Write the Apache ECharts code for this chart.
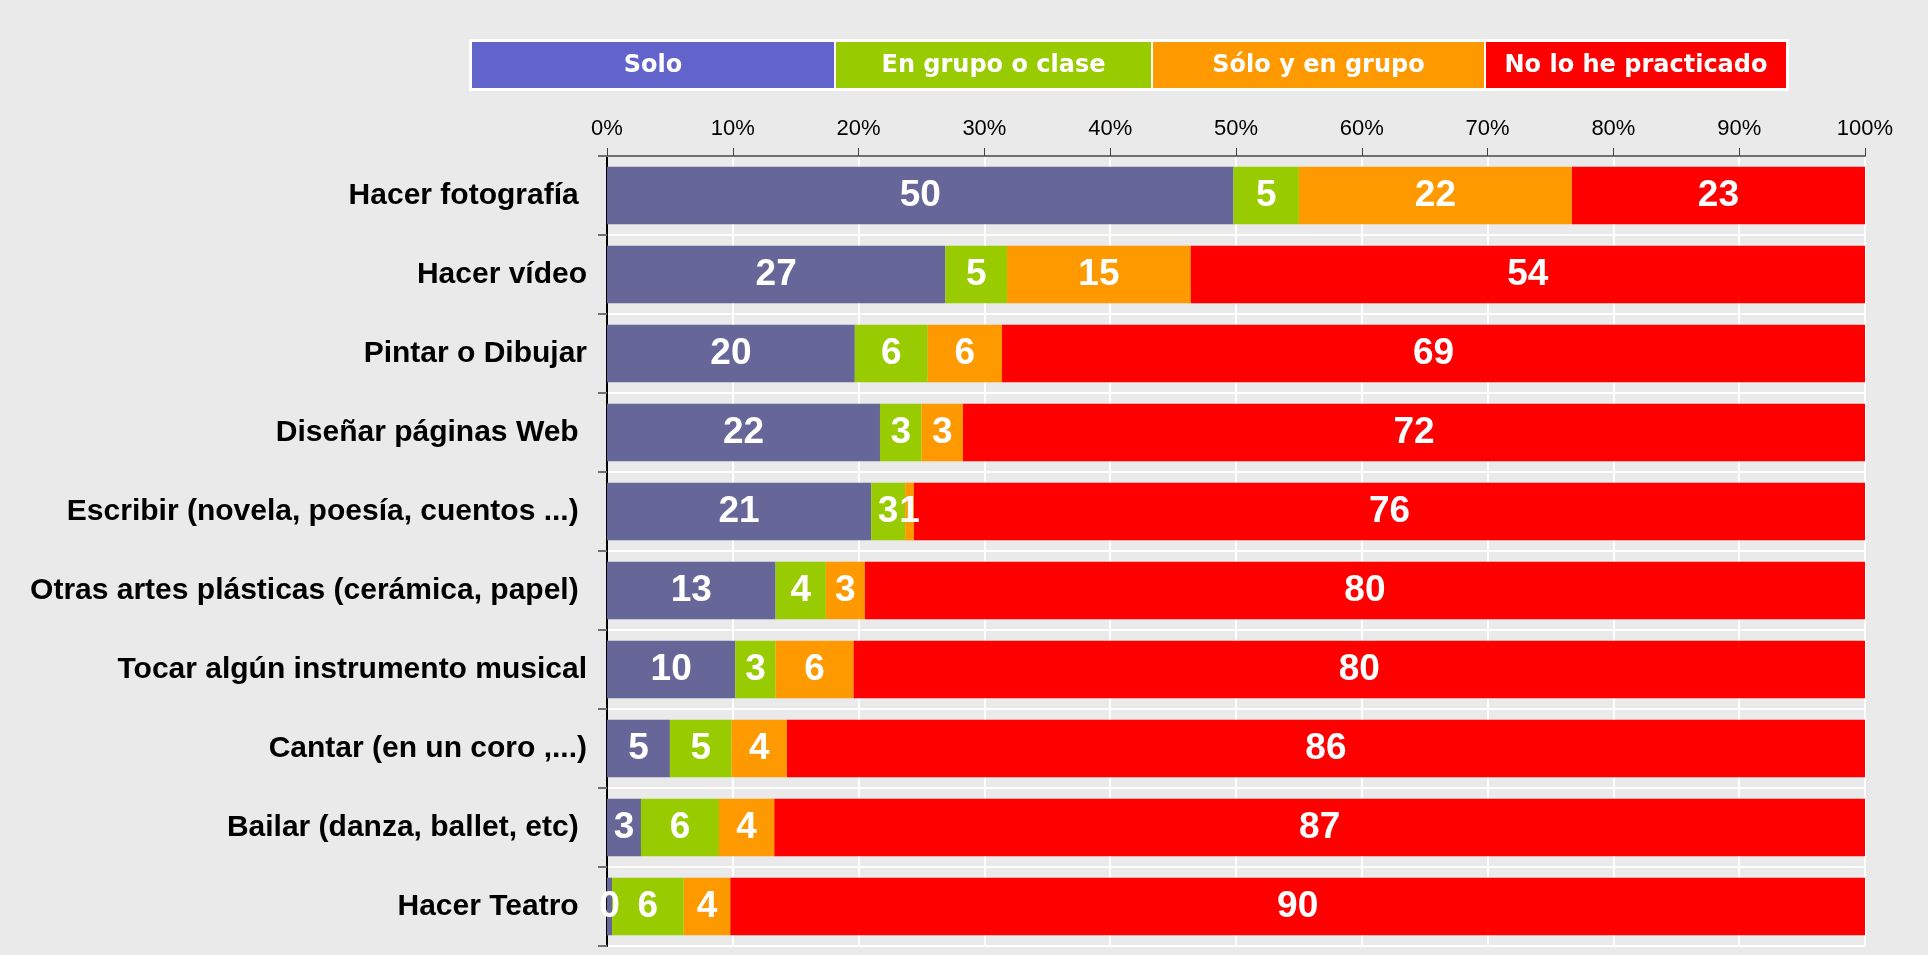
<!DOCTYPE html>
<html>
<head>
<meta charset="utf-8">
<title>Prácticas artísticas</title>
<script src="https://cdn.jsdelivr.net/npm/echarts@6/dist/echarts.min.js"></script>
<style>
  html, body { margin: 0; padding: 0; background: #eaeaea; }
  #chart { width: 1928px; height: 955px; }
</style>
</head>
<body>
<div id="chart"></div>
<script>
// categorías (de arriba a abajo)
var categorias = [
    'Hacer fotografía ',
    'Hacer vídeo',
    'Pintar o Dibujar',
    'Diseñar páginas Web ',
    'Escribir (novela, poesía, cuentos ...) ',
    'Otras artes plásticas (cerámica, papel) ',
    'Tocar algún instrumento musical',
    'Cantar (en un coro ,...)',
    'Bailar (danza, ballet, etc) ',
    'Hacer Teatro '
];

var solo         = [49.8, 26.9, 19.7, 21.7, 21.0, 13.4, 10.2, 5.0, 2.7, 0.4];
var enGrupo      = [5.2, 4.9, 5.8, 3.3, 2.7, 4.0, 3.2, 4.9, 6.2, 5.7];
var soloYGrupo   = [21.7, 14.6, 5.9, 3.3, 0.7, 3.1, 6.2, 4.4, 4.4, 3.7];
var noPracticado = [23.3, 53.6, 68.6, 71.7, 75.6, 79.5, 80.4, 85.7, 86.7, 90.2];

var nombres = ['Solo', 'En grupo o clase', 'Sólo y en grupo', 'No lo he practicado'];
var coloresBarra = ['#666699', '#99cc00', '#ff9900', '#ff0000'];
var coloresLeyenda = ['#6363cc', '#99cc00', '#ff9900', '#ff0000'];

var myChart = echarts.init(document.getElementById('chart'));

// leyenda dibujada como cajas de color con texto blanco
var cortes = [471, 835, 1152, 1485, 1787];
var leyenda = [];
leyenda.push({
    type: 'rect',
    shape: { x: cortes[0] - 2, y: 39, width: cortes[4] - cortes[0] + 4, height: 52 },
    style: { fill: '#ffffff' }
});
for (var i = 0; i < 4; i++) {
    leyenda.push({
        type: 'rect',
        shape: { x: cortes[i] + 1, y: 42, width: cortes[i + 1] - cortes[i] - 2, height: 46 },
        style: { fill: coloresLeyenda[i] }
    });
    leyenda.push({
        type: 'text',
        x: (cortes[i] + cortes[i + 1]) / 2,
        y: 66,
        style: {
            text: nombres[i],
            fill: '#ffffff',
            font: 'bold 24px "DejaVu Sans", Verdana, sans-serif',
            align: 'center',
            verticalAlign: 'middle'
        }
    });
}

function serie(idx, datos) {
    return {
        name: nombres[idx],
        type: 'bar',
        stack: 'total',
        barCategoryGap: '27%',
        data: datos,
        itemStyle: { color: coloresBarra[idx] },
        label: {
            show: true,
            position: 'inside',
            color: '#ffffff',
            fontFamily: '"Liberation Sans Narrow", "Liberation Sans", Arial, sans-serif',
            fontWeight: 'bold',
            fontSize: 37,
            formatter: function (p) { return Math.round(p.value); }
        }
    };
}

var option = {
    backgroundColor: '#eaeaea',
    animation: false,
    grid: { left: 607, right: 63, top: 156, bottom: 9 },
    xAxis: {
        type: 'value',
        position: 'top',
        min: 0,
        max: 100,
        interval: 10,
        axisLine: { show: true, lineStyle: { color: '#707070', width: 2 } },
        axisTick: { show: true, length: 8, lineStyle: { color: '#404040', width: 1 } },
        axisLabel: {
            formatter: '{value}%',
            color: '#000000',
            fontSize: 22,
            fontFamily: '"Liberation Sans", Arial, sans-serif',
            margin: 16
        },
        splitLine: { show: true, lineStyle: { color: '#ffffff', width: 2 } }
    },
    yAxis: {
        type: 'category',
        inverse: true,
        data: categorias,
        axisLine: { show: true, lineStyle: { color: '#000000', width: 2 } },
        axisTick: { show: true, length: 9, lineStyle: { color: '#707070', width: 2 } },
        axisLabel: {
            color: '#000000',
            fontSize: 30,
            fontWeight: 'bold',
            fontFamily: '"Liberation Sans", Arial, sans-serif',
            margin: 20
        },
        splitLine: { show: true, lineStyle: { color: '#ffffff', width: 2 } }
    },
    series: [
        serie(0, solo),
        serie(1, enGrupo),
        serie(2, soloYGrupo),
        serie(3, noPracticado)
    ],
    graphic: leyenda
};

myChart.setOption(option);
</script>
</body>
</html>
